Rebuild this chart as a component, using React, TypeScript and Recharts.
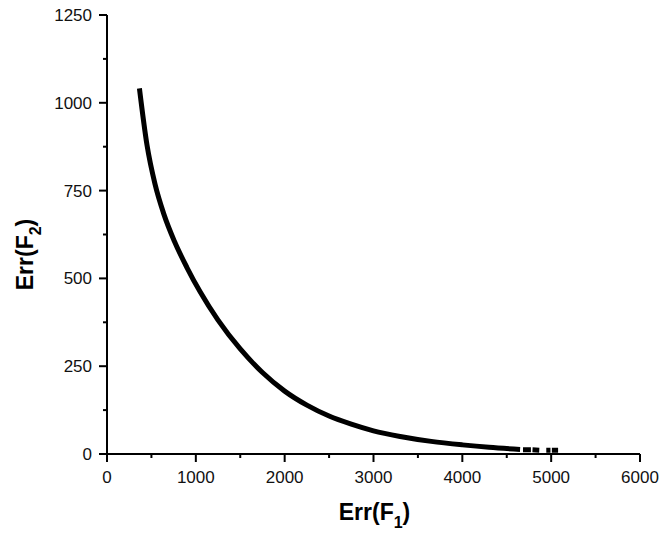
import { LineChart, Line, XAxis, YAxis, Label } from "recharts";

// main front
const errF1 = [365, 450, 540, 640, 760, 900, 1050, 1250, 1500, 1750, 2000, 2250, 2500, 2750, 3000, 3300, 3650, 4000, 4300, 4650];
const errF2 = [1041, 880, 769, 683, 605, 531, 461, 381, 299, 232, 179, 139, 108, 85, 66, 50, 36, 26, 19, 13];

// broken tail after ~4650 (null = gap)
const tailF1 = [4683, 4772, 4780, 4790, 4866, 4900, 4945, 4992, 4998, 5008, 5078];
const tailF2 = [12, 12, null, 12, 11, null, 11, 11, null, 11, 11];

const xTicks = [0, 500, 1000, 1500, 2000, 2500, 3000, 3500, 4000, 4500, 5000, 5500, 6000];
const yTicks = [0, 125, 250, 375, 500, 625, 750, 875, 1000, 1125, 1250];

const mainData = errF1.map((x, i) => ({ x, y: errF2[i] }));
const tailData = tailF1.map((x, i) => ({ x, y: tailF2[i] }));

const FONT = '"Liberation Sans", Arial, sans-serif';

const XTick = ({ x, y, payload }: any) => {
  const major = payload.value % 1000 === 0;
  return (
    <g>
      <line x1={x} x2={x} y1={y} y2={y + (major ? 8 : 4)} stroke="#000" strokeWidth={2} />
      {major && (
        <text x={x} y={y + 29} textAnchor="middle" fontSize={17} fontFamily={FONT} fill="#111">
          {payload.value}
        </text>
      )}
    </g>
  );
};

const YTick = ({ x, y, payload }: any) => {
  const major = payload.value % 250 === 0;
  return (
    <g>
      <line x1={x - (major ? 8 : 4)} x2={x} y1={y} y2={y} stroke="#000" strokeWidth={2} />
      {major && (
        <text x={x - 15} y={y + 6} textAnchor="end" fontSize={17} fontFamily={FONT} fill="#111">
          {payload.value}
        </text>
      )}
    </g>
  );
};

const XTitle = ({ viewBox }: any) => {
  const cx = viewBox.x + viewBox.width / 2 + 1;
  const by = viewBox.y + 66;
  return (
    <text x={cx} y={by} textAnchor="middle" fontSize={23} fontWeight="bold" fontFamily={FONT} fill="#000">
      Err(F
      <tspan fontSize={16} dy={8}>1</tspan>
      <tspan dy={-8}>)</tspan>
    </text>
  );
};

const YTitle = ({ viewBox }: any) => {
  const bx = 33;
  const cy = viewBox.y + viewBox.height / 2 + 20;
  return (
    <text
      x={bx}
      y={cy}
      transform={`rotate(-90, ${bx}, ${cy})`}
      textAnchor="middle"
      fontSize={23}
      fontWeight="bold"
      fontFamily={FONT}
      fill="#000"
    >
      Err(F
      <tspan fontSize={16} dy={8}>2</tspan>
      <tspan dy={-8}>)</tspan>
    </text>
  );
};

export default function App() {
  return (
    <div style={{ position: "absolute", left: 0, top: 0, background: "#fff" }}>
      <LineChart width={660} height={533} margin={{ top: 15, right: 20, left: 0, bottom: 0 }}>
        <XAxis
          dataKey="x"
          type="number"
          domain={[0, 6000]}
          ticks={xTicks}
          interval={0}
          allowDataOverflow
          axisLine={{ stroke: "#000", strokeWidth: 2 }}
          tickLine={false}
          tickSize={0}
          tickMargin={0}
          tick={<XTick />}
          height={79}
        >
          <Label content={<XTitle />} />
        </XAxis>
        <YAxis
          dataKey="y"
          type="number"
          domain={[0, 1250]}
          ticks={yTicks}
          interval={0}
          allowDataOverflow
          axisLine={{ stroke: "#000", strokeWidth: 2 }}
          tickLine={false}
          tickSize={0}
          tickMargin={0}
          tick={<YTick />}
          width={107}
        >
          <Label content={<YTitle />} />
        </YAxis>
        <Line
          data={mainData}
          dataKey="y"
          type="monotone"
          stroke="#000"
          strokeWidth={5}
          dot={false}
          isAnimationActive={false}
        />
        <Line
          data={tailData}
          dataKey="y"
          type="linear"
          stroke="#000"
          strokeWidth={5}
          dot={false}
          connectNulls={false}
          isAnimationActive={false}
        />
      </LineChart>
    </div>
  );
}
